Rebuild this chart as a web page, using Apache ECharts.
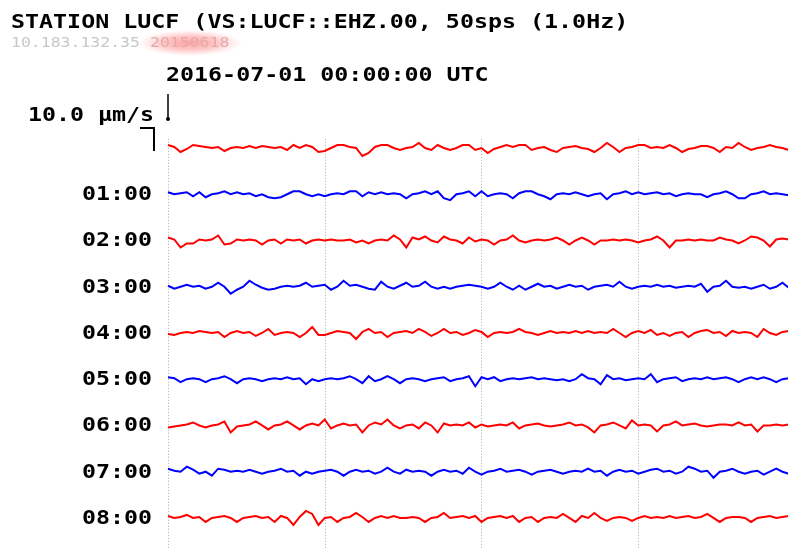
<!DOCTYPE html>
<html>
<head>
<meta charset="utf-8">
<title>LUCF helicorder</title>
<script src="https://cdn.jsdelivr.net/npm/echarts@6.0.0/dist/echarts.min.js"></script>
<style>
html, body { margin: 0; padding: 0; background: #fff; overflow: hidden; }
/* a bit wider than the window so the last hour column runs off the edge */
#main { width: 795px; height: 548px; }
</style>
</head>
<body>
<div id="main"></div>
<script>
// one line per hour, starting 2016-07-01 00:00 UTC
var hourLabels = ['', '01:00', '02:00', '03:00', '04:00', '05:00', '06:00', '07:00', '08:00'];
// sample step along each line, minutes
var stepMin = 0.6;

// deflection of each line (counts, up = positive)
var trace00 = [
    3,1,-4,-1,3,2,1,0,1,-3,
    0,1,0,2,0,2,1,0,1,-2,
    3,0,3,1,-4,-3,0,3,3,1,
    0,-8,-5,1,3,3,0,-2,0,1,
    5,0,-2,3,0,-2,0,3,3,-2,
    0,-5,-1,1,3,1,3,3,-2,0,
    1,-2,-4,0,1,2,0,-1,-4,0,
    5,1,-4,0,1,3,3,0,1,0,
    3,0,-4,-1,0,2,2,0,-4,1,
    0,5,1,-2,0,1,3,1,0,-2
];
var trace01 = [
    2,0,1,2,-2,2,-3,0,1,3,
    0,2,0,1,-2,0,-3,-4,-3,0,
    3,3,0,-2,0,-2,0,1,0,3,
    3,-2,2,0,2,0,1,0,-4,0,
    1,3,0,3,-4,-6,0,1,3,-2,
    3,-2,0,1,0,-4,1,3,3,0,
    -2,-5,0,1,0,2,0,-2,0,1,
    -5,0,1,3,0,2,0,1,2,0,
    1,-2,0,1,0,0,-3,0,1,3,
    0,-4,-4,0,1,3,0,1,0,-1
];
var trace02 = [
    3,1,-7,-3,-3,1,0,1,5,-4,
    -3,1,0,1,0,-4,0,1,-3,1,
    0,1,-3,0,1,0,1,0,0,1,
    -2,0,-3,0,1,0,5,1,-7,3,
    1,4,0,-2,4,1,0,-3,3,-1,
    1,0,-4,0,1,5,0,-2,0,1,
    0,1,3,0,-4,0,3,0,-4,0,
    0,1,0,1,0,-2,0,1,4,0,
    -7,0,0,1,0,1,0,0,3,1,
    0,-3,0,4,3,0,-6,1,2,1
];
var trace03 = [
    1,-2,0,2,0,1,-2,0,4,0,
    -7,-3,0,6,2,-1,-3,-2,0,1,
    0,1,4,0,1,2,-3,0,6,1,
    2,0,-2,-3,5,0,-2,1,4,0,
    1,5,0,-2,0,-2,0,1,2,1,
    0,-2,0,4,0,-3,1,-3,0,3,
    0,1,-2,0,2,0,1,-3,0,1,
    2,0,5,0,-2,0,1,0,2,0,
    1,-1,0,1,0,3,-5,0,1,6,
    0,-1,0,-2,0,2,-2,0,4,-1
];
var trace04 = [
    -1,-2,0,1,0,2,1,0,1,-4,
    0,2,0,1,-3,0,4,-2,0,1,
    0,-4,0,6,-2,-2,0,2,1,0,
    -6,1,4,0,1,-4,0,1,2,0,
    4,1,-3,0,4,0,1,-2,0,3,
    1,-4,0,1,0,1,4,1,0,-2,
    0,2,0,1,0,2,0,2,0,1,
    0,4,0,-4,0,2,0,3,-2,0,
    -3,0,1,-4,0,2,3,0,1,-3,
    2,0,1,0,-4,4,0,-2,1,2
];
var trace05 = [
    2,1,-3,0,1,0,-3,0,1,3,
    0,-4,0,1,0,-2,0,1,0,2,
    0,1,-5,0,-2,0,1,0,1,3,
    0,-4,3,-2,0,3,0,-4,0,1,
    0,-2,0,1,2,-2,0,1,3,-7,
    2,0,2,-2,0,1,0,1,2,0,
    1,0,-1,0,-2,0,5,1,0,-5,
    4,0,1,-1,0,1,0,5,-3,0,
    1,2,-2,0,1,0,2,0,1,2,
    0,-3,0,2,0,2,0,-3,0,1
];
var trace06 = [
    -2,-1,0,1,3,0,-2,0,1,4,
    -7,-1,0,1,4,0,-4,0,1,4,
    0,-4,0,2,0,6,-3,0,2,0,
    1,-7,0,3,1,6,0,-3,0,1,
    -3,3,0,-7,2,0,1,0,3,-2,
    1,-1,0,1,0,3,-3,0,1,2,
    0,-1,0,1,3,0,1,-2,-7,0,
    1,3,0,-3,5,0,1,0,-6,0,
    1,4,0,1,2,0,-1,0,1,1,
    0,3,0,1,-6,0,0,1,0,1
];
var trace07 = [
    3,1,0,5,2,-2,0,-4,3,2,
    0,1,0,2,0,-2,0,1,3,0,
    1,-4,0,-2,0,1,2,0,-4,0,
    2,0,1,-2,0,4,0,-2,2,0,
    1,0,-4,0,2,0,1,-2,4,0,
    -3,0,1,3,0,1,2,0,-3,0,
    1,2,0,-2,0,1,0,3,0,1,
    -4,0,2,0,1,-2,0,2,3,0,
    1,-2,0,5,3,0,1,-6,0,1,
    3,0,-2,0,1,-3,0,3,0,-2
];
var trace08 = [
    2,0,1,3,0,1,-4,0,1,2,
    0,-4,0,1,2,0,1,-4,2,0,
    -7,1,7,4,-7,0,1,-4,0,1,
    5,1,-4,0,2,0,2,0,0,1,
    0,-4,0,1,5,0,1,2,0,2,
    -4,0,1,2,0,2,-4,0,1,-4,
    0,1,0,4,0,-4,2,0,5,0,
    -3,0,1,0,-3,0,2,0,1,0,
    2,0,1,2,0,1,4,0,-4,0,
    1,1,0,-4,0,1,2,0,1,2
];
var traces = [trace00, trace01, trace02, trace03, trace04, trace05, trace06, trace07, trace08];

var rowPx = 46.25;          // distance between lines
var ampScale = 1 / rowPx;   // one count = one pixel
var monoFont = '"DejaVu Sans Mono", "Liberation Mono", monospace';

var myChart = echarts.init(document.getElementById('main'), null, { renderer: 'canvas' });

var series = [];
for (var r = 0; r < traces.length; r++) {
    var pts = [];
    for (var i = 0; i < traces[r].length; i++) {
        pts.push([i * stepMin, r - traces[r][i] * ampScale]);
    }
    series.push({
        type: 'line',
        data: pts,
        symbol: 'none',
        silent: true,
        lineStyle: { color: r % 2 == 0 ? '#ff0000' : '#0000ff', width: 2, join: 'miter' }
    });
}

// hour labels on the left
var graphics = [];
for (var h = 1; h < hourLabels.length; h++) {
    graphics.push({
        type: 'text',
        x: 152,
        y: 148 + h * rowPx + 1,
        scaleX: 1.225,
        style: {
            text: hourLabels[h],
            font: 'bold 19px ' + monoFont,
            fill: '#000',
            textAlign: 'right',
            textVerticalAlign: 'middle'
        }
    });
}

graphics = graphics.concat([
    {
        type: 'text', x: 11, y: 23, scaleX: 1.165,
        style: {
            text: 'STATION LUCF (VS:LUCF::EHZ.00, 50sps (1.0Hz)',
            font: 'bold 20px ' + monoFont, fill: '#000',
            textAlign: 'left', textVerticalAlign: 'middle'
        }
    },
    {
        type: 'text', x: 11, y: 43, scaleX: 1.22,
        style: {
            text: '10.183.132.35',
            font: '13.5px ' + monoFont, fill: '#c8c8c8',
            textAlign: 'left', textVerticalAlign: 'middle'
        }
    },
    // soft red glow behind the build date (round blob stretched sideways)
    {
        type: 'circle',
        x: 190, y: 43, scaleX: 4,
        shape: { cx: 0, cy: 0, r: 13 },
        style: {
            fill: new echarts.graphic.RadialGradient(0.5, 0.5, 0.5, [
                { offset: 0, color: 'rgba(255,70,70,0.5)' },
                { offset: 0.55, color: 'rgba(255,90,90,0.32)' },
                { offset: 1, color: 'rgba(255,120,120,0)' }
            ])
        }
    },
    {
        type: 'text', x: 150, y: 43, scaleX: 1.22,
        style: {
            text: '20150618',
            font: '13.5px ' + monoFont, fill: '#e6a9a9',
            textAlign: 'left', textVerticalAlign: 'middle'
        }
    },
    {
        type: 'text', x: 166, y: 76, scaleX: 1.165,
        style: {
            text: '2016-07-01 00:00:00 UTC',
            font: 'bold 20px ' + monoFont, fill: '#000',
            textAlign: 'left', textVerticalAlign: 'middle'
        }
    },
    {
        type: 'text', x: 154, y: 116, scaleX: 1.225,
        style: {
            text: '10.0 \u00b5m/s',
            font: 'bold 19px ' + monoFont, fill: '#000',
            textAlign: 'right', textVerticalAlign: 'middle'
        }
    },
    // scale bracket under the amplitude text
    {
        type: 'polyline',
        shape: { points: [[140, 128], [154, 128], [154, 151]] },
        style: { stroke: '#000', lineWidth: 2, fill: null }
    },
    // start marker
    {
        type: 'line',
        shape: { x1: 168, y1: 94, x2: 168, y2: 120 },
        style: { stroke: '#000', lineWidth: 1.5 }
    },
    {
        type: 'circle',
        shape: { cx: 168, cy: 119, r: 2 },
        style: { fill: '#000' }
    }
]);

var option = {
    animation: false,
    backgroundColor: '#fff',
    grid: { left: 168, right: 0, top: 148 - 0.2 * rowPx, bottom: 0 },
    xAxis: {
        type: 'value',
        min: 0,
        max: 60,
        interval: 15,
        axisLine: { show: false },
        axisTick: { show: false },
        axisLabel: { show: false },
        splitLine: { show: true, lineStyle: { color: '#a8a8a8', width: 1, type: [1, 2] } }
    },
    yAxis: {
        type: 'value',
        inverse: true,
        min: -0.2,
        max: 8.65,
        axisLine: { show: false },
        axisTick: { show: false },
        axisLabel: { show: false },
        splitLine: { show: false }
    },
    graphic: graphics,
    series: series
};

myChart.setOption(option);
</script>
</body>
</html>
